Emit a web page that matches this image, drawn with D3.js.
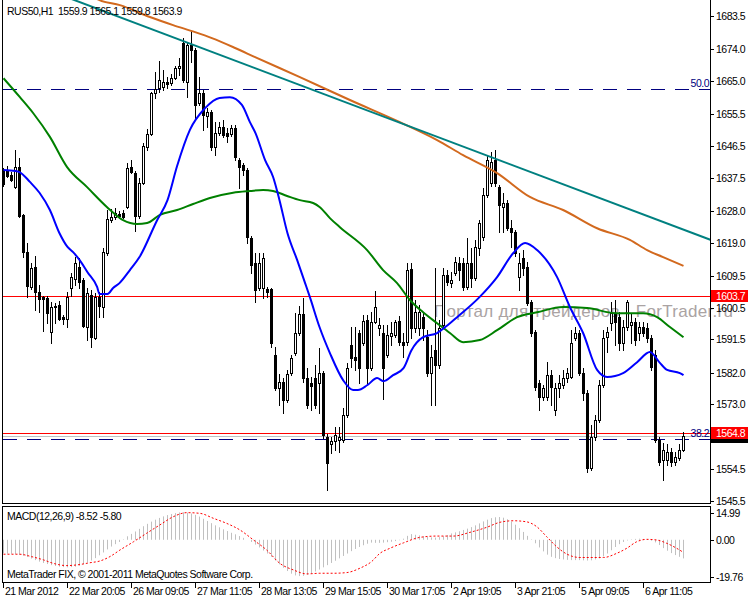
<!DOCTYPE html>
<html><head><meta charset="utf-8">
<script src="https://cdn.jsdelivr.net/npm/d3@7"></script>
<style>
body{margin:0;background:#fff;}
svg{display:block;font-family:"Liberation Sans",Arial,sans-serif;}
text{font-size:10.5px;letter-spacing:-0.5px;white-space:pre;}
</style></head><body>
<svg id="c" width="750" height="600"></svg>
<script>
// ---------------- DATA ----------------
const symbolTitle = "RUS50,H1  1559.9 1565.1 1559.8 1563.9";
const macdTitle = "MACD(12,26,9) -8.52 -5.80";
const copyright = "MetaTrader FIX, \u00A9 2001-2011 MetaQuotes Software Corp.";
const watermark = "Портал для трейдеров - ForTrader.ru";

const barOpen = [1639.7,1639.4,1638.3,1634.8,1640.6,1626.9,1616.3,1606.4,1612.1,1604.9,1603.5,1603.2,1593.5,1601.0,1601.3,1597.8,1597.3,1606.1,1608.7,1612.1,1608.4,1595.0,1604.1,1591.8,1603.5,1600.7,1616.0,1625.4,1626.3,1627.2,1627.4,1629.1,1640.5,1638.8,1626.6,1635.9,1646.2,1650.0,1661.5,1663.0,1663.3,1664.7,1664.4,1665.8,1668.7,1675.8,1664.7,1675.3,1673.8,1658.8,1661.5,1655.0,1656.1,1646.2,1650.2,1651.9,1650.2,1650.0,1651.6,1642.5,1641.1,1639.7,1620.3,1613.2,1606.1,1606.1,1605.8,1605.8,1587.0,1577.6,1579.3,1574.2,1582.0,1587.6,1593.3,1598.7,1580.5,1579.1,1580.5,1579.1,1582.0,1563.7,1561.7,1562.5,1562.8,1562.8,1569.9,1589.9,1586.4,1593.3,1590.4,1597.0,1583.3,1596.4,1594.7,1593.3,1587.0,1592.4,1592.7,1596.7,1590.7,1590.7,1611.5,1594.7,1594.7,1597.8,1592.1,1582.0,1588.4,1584.2,1595.6,1609.8,1607.5,1610.3,1613.2,1613.2,1606.4,1613.2,1609.0,1617.5,1620.6,1632.6,1635.9,1642.5,1634.8,1629.1,1630.3,1623.1,1622.0,1609.2,1614.6,1612.1,1602.1,1593.5,1579.1,1575.1,1575.1,1581.4,1571.4,1577.6,1578.5,1580.5,1580.8,1591.8,1593.3,1582.0,1576.2,1554.8,1563.7,1568.5,1578.5,1592.1,1596.1,1598.9,1597.8,1590.4,1595.0,1595.6,1596.4,1593.3,1595.0,1594.7,1591.8,1587.0,1562.8,1557.1,1557.1,1559.4,1556.5,1557.7,1559.9];
const barHigh = [1640.3,1640.8,1639.1,1645.4,1643.1,1627.2,1618.9,1613.2,1615.2,1607.0,1603.8,1603.8,1602.1,1601.8,1602.4,1598.4,1604.9,1610.3,1614.9,1614.6,1609.0,1606.1,1605.5,1604.6,1604.9,1617.5,1628.3,1628.6,1628.8,1628.0,1628.3,1641.6,1642.5,1639.4,1637.4,1647.3,1651.4,1661.9,1667.5,1670.7,1668.1,1666.1,1667.0,1669.3,1671.5,1677.2,1675.8,1679.2,1674.4,1666.1,1662.4,1657.3,1656.7,1653.3,1653.3,1653.9,1651.6,1652.5,1652.5,1643.1,1641.6,1640.2,1620.9,1616.0,1616.0,1616.0,1606.4,1606.1,1589.3,1581.7,1580.5,1582.8,1587.0,1598.9,1601.0,1603.2,1583.4,1580.8,1584.2,1589.0,1582.5,1564.6,1563.7,1566.6,1566.6,1571.9,1584.8,1595.0,1595.0,1594.1,1598.4,1598.4,1599.2,1605.2,1597.6,1595.6,1595.6,1596.4,1597.0,1598.1,1593.3,1613.2,1613.2,1602.7,1601.3,1599.2,1594.1,1589.9,1611.8,1597.0,1611.8,1611.2,1610.6,1614.9,1614.9,1614.6,1620.3,1617.5,1619.8,1625.4,1634.5,1643.9,1644.8,1645.4,1635.4,1633.2,1631.1,1625.4,1622.6,1616.0,1616.9,1613.5,1602.7,1594.1,1579.9,1578.5,1585.0,1582.8,1579.1,1581.4,1582.8,1583.3,1594.1,1595.0,1594.1,1583.3,1577.1,1567.1,1569.9,1579.9,1594.1,1595.0,1602.1,1602.7,1599.2,1597.0,1602.7,1598.9,1597.6,1596.4,1596.4,1596.1,1592.7,1588.4,1563.7,1562.0,1561.7,1560.6,1559.4,1561.7,1565.1];
const barLow = [1635.1,1637.7,1636.5,1634.5,1626.3,1614.9,1603.5,1605.8,1599.8,1599.2,1593.9,1596.1,1590.4,1596.1,1597.0,1595.8,1595.0,1603.8,1607.0,1606.1,1595.0,1591.3,1589.3,1591.5,1597.8,1597.8,1615.5,1624.8,1625.7,1626.0,1626.0,1628.8,1638.8,1622.3,1626.0,1635.7,1645.4,1649.7,1660.1,1661.9,1662.4,1663.0,1663.8,1665.6,1666.7,1664.7,1660.4,1670.4,1654.4,1658.2,1651.1,1651.9,1645.4,1644.0,1649.7,1649.1,1647.7,1649.4,1642.5,1634.5,1638.3,1618.9,1610.3,1602.1,1605.5,1603.2,1603.5,1589.3,1577.1,1572.8,1570.5,1573.6,1581.4,1587.0,1592.7,1579.3,1572.0,1571.4,1572.0,1570.5,1563.4,1548.6,1559.1,1560.0,1559.4,1562.3,1569.3,1583.6,1582.8,1579.1,1589.9,1579.1,1582.8,1596.1,1592.7,1574.5,1586.4,1589.9,1592.1,1589.9,1586.4,1589.9,1591.8,1593.5,1592.7,1591.3,1581.1,1572.8,1572.8,1583.3,1595.0,1607.0,1606.4,1609.8,1608.4,1605.5,1605.8,1606.4,1608.4,1615.5,1619.8,1632.0,1635.1,1635.1,1622.0,1622.0,1622.6,1617.8,1615.2,1605.5,1609.8,1601.3,1592.4,1577.1,1571.4,1574.2,1574.2,1572.8,1569.9,1575.0,1577.6,1579.3,1580.5,1591.3,1581.4,1574.2,1553.7,1554.3,1562.8,1568.0,1577.9,1587.8,1594.1,1589.9,1588.4,1588.4,1594.1,1590.4,1589.9,1591.3,1592.4,1590.7,1582.8,1562.3,1555.8,1551.5,1555.8,1555.5,1555.8,1557.1,1559.8];
const barClose = [1635.7,1638.0,1636.8,1640.6,1626.6,1616.3,1606.7,1611.8,1604.9,1602.9,1602.9,1598.9,1600.7,1600.7,1597.3,1597.3,1603.5,1609.2,1613.2,1607.8,1595.3,1604.6,1592.1,1603.5,1601.0,1616.3,1625.7,1626.3,1627.4,1626.6,1626.3,1640.2,1639.1,1626.6,1635.9,1646.5,1650.0,1661.5,1662.7,1665.3,1664.7,1664.1,1665.8,1668.7,1669.3,1665.3,1675.3,1673.8,1658.2,1661.5,1655.3,1656.1,1646.2,1650.2,1651.9,1649.7,1649.4,1651.6,1643.4,1640.5,1639.7,1620.6,1612.7,1605.5,1613.2,1614.6,1604.9,1590.4,1577.6,1579.3,1574.2,1581.7,1586.1,1593.3,1598.7,1580.5,1572.8,1578.2,1572.8,1582.0,1564.3,1556.3,1562.5,1564.3,1563.7,1569.9,1583.3,1586.1,1585.6,1583.3,1596.7,1583.3,1596.4,1600.7,1595.6,1583.3,1592.7,1593.3,1596.4,1590.7,1589.9,1611.2,1594.7,1599.2,1599.2,1594.7,1582.0,1586.4,1584.2,1594.7,1609.8,1607.8,1608.4,1613.5,1611.2,1606.4,1613.2,1609.0,1617.8,1624.6,1632.6,1642.5,1641.9,1635.9,1629.7,1630.3,1623.1,1622.0,1616.0,1613.2,1611.8,1601.8,1593.3,1577.9,1575.1,1577.6,1581.4,1577.9,1577.6,1579.1,1580.5,1582.0,1590.4,1593.3,1582.0,1576.2,1554.8,1563.7,1568.5,1578.5,1591.8,1593.5,1598.9,1596.4,1590.4,1595.0,1602.1,1596.4,1591.3,1595.0,1593.3,1591.8,1583.6,1562.8,1556.5,1560.0,1559.4,1556.5,1558.0,1560.0,1563.9];

// moving averages (sampled bar index -> value)
const maFastIdx = [0,3,4,6.6,9,11.6,14,16,17.4,19,21,23.4,24,26,27.4,29,31.6,34,38.4,41,43.4,46.6,50.4,54,56.6,59.6,61.6,63,65.4,67.4,69,71,73.4,75.4,76.6,79,81.6,84.9,87.4,88.6,91,93.4,95,97.4,100,102,104.9,108.4,111.1,113.4,119,123.4,127.4,130.4,133.4,138.4,141.6,144.9,148.4,150.9,154.9,158.4,161.6,164.1,165.9,169.1,170];
const maFastVal = [1639.7,1639.4,1639.1,1636.3,1633.2,1628.3,1621.7,1617.8,1616.3,1614.1,1610.6,1606.4,1604.4,1604.4,1606.1,1607.5,1611.2,1614.9,1625.4,1631.1,1640.8,1651.1,1657.3,1660.2,1660.4,1658.2,1653.3,1650.2,1642.5,1637.7,1631.1,1621.7,1614.1,1607.5,1603.5,1595.0,1587.6,1579.9,1577.1,1577.1,1578.5,1580.5,1579.6,1581.3,1583.3,1588.4,1592.1,1593.3,1595.6,1597.8,1603.5,1609.2,1616.0,1618.9,1616.9,1609.2,1600.7,1593.3,1582.8,1580.8,1581.9,1585.0,1587.9,1584.8,1582.8,1581.9,1581.3];
const maMidIdx = [0,4.1,7.4,11.6,15.9,20.9,25.9,29.9,33.4,35.9,39.1,43.4,47.4,51.6,57.4,61.6,64.9,67.4,70.9,74.1,77.4,79.1,81.6,84.1,90.9,94.9,98.4,101.6,104.9,108.4,111.6,114.9,119.1,123.4,128.4,133.4,139.9,145.9,153.4,159.9,163.4,166.6,170];
const maMidVal = [1665.8,1660.4,1655.9,1649.1,1640.5,1634.8,1629.1,1625.4,1624.3,1624.6,1626.9,1628.3,1630.0,1631.7,1633.2,1633.7,1634.0,1633.7,1632.3,1631.1,1630.3,1629.1,1626.0,1623.4,1616.9,1611.2,1607.5,1602.7,1599.2,1596.1,1593.3,1590.7,1591.3,1594.1,1597.8,1599.2,1600.7,1600.4,1598.9,1598.9,1597.8,1595.0,1592.1];
const maSlowIdx = [21.6,24,29.1,36.6,42.4,47.9,52.1,57.9,62.9,74.1,86.6,99.1,108.4,114.9,123.4,131.6,139.9,148.4,156.6,160.9,164.9,170];
const maSlowVal = [1689.5,1688.0,1686.6,1683.2,1680.9,1678.9,1677.2,1674.4,1671.8,1666.1,1659.6,1653.3,1648.2,1643.9,1638.8,1632.0,1628.3,1623.1,1619.8,1616.9,1614.9,1612.4];

// trend line anchors (bar index, price)
const trendIdx = [46, 122];
const trendVal = [1675.9, 1643.3];

// horizontal levels
const fibLabels = ["50.0", "38.2"];
const fibPrices = [1662.6, 1563.0];
const alertPrices = [1603.7, 1564.8];
const bidPrice = 1563.9;

// axes
const priceTicks = [1683.5,1674.0,1665.0,1655.5,1646.5,1637.5,1628.0,1619.0,1609.5,1600.5,1591.5,1582.0,1573.0,1564.0,1554.5,1545.5];
const timeTickIdx = [0,16,32,48,64,80,96,112,128,144,160];
const timeLabels = ["21 Mar 2012","22 Mar 20:05","26 Mar 09:05","27 Mar 11:05","28 Mar 13:05","29 Mar 15:05","30 Mar 17:05","2 Apr 19:05","3 Apr 21:05","5 Apr 09:05","6 Apr 11:05"];
const macdTicks = [14.99, 0.00, -19.76];

// MACD histogram per bar
const macdMain = [-6.2,-6.3,-6.4,-6.6,-6.9,-7.3,-7.9,-8.6,-9.3,-10.0,-10.6,-11.1,-11.6,-12.0,-12.3,-12.5,-12.6,-12.5,-12.3,-11.9,-11.2,-10.4,-9.5,-8.4,-7.1,-5.8,-4.4,-3.1,-2.0,-1.0,0.2,1.6,2.7,3.8,5.0,6.2,7.3,8.3,9.2,10.0,10.7,11.3,11.8,12.2,12.5,12.6,12.4,12.0,11.4,10.6,9.6,8.6,7.6,6.6,5.7,4.8,4.0,3.2,2.5,1.7,0.9,0.0,-1.0,-2.2,-3.5,-4.9,-6.3,-7.8,-9.5,-11.2,-12.8,-14.3,-15.5,-16.3,-16.6,-16.5,-16.0,-15.3,-14.5,-13.6,-12.6,-11.6,-10.6,-9.6,-8.5,-7.4,-6.3,-5.2,-4.2,-3.3,-2.5,-1.8,-1.3,-1.4,-1.4,-1.3,-1.1,-0.9,-0.6,-0.2,0.5,1.8,2.6,2.3,2.0,1.6,1.3,1.1,1.0,1.2,1.6,2.2,2.9,3.4,3.9,4.5,5.1,5.8,6.6,7.5,8.4,9.2,9.9,10.3,10.4,10.1,9.4,8.3,6.9,5.3,3.6,1.8,0.2,-1.6,-3.5,-5.3,-6.8,-7.8,-8.4,-8.8,-9.0,-9.2,-9.3,-9.3,-9.3,-9.4,-9.5,-9.4,-9.0,-8.5,-7.6,-6.3,-4.8,-3.3,-2.0,-1.0,-0.3,0.2,0.4,0.5,0.4,0.1,-0.4,-1.2,-2.4,-3.8,-5.0,-6.1,-7.0,-7.8,-8.52];
// MACD signal (sampled)
const signalIdx = [0,4,7,10,12.5,15.8,18.3,21.6,24.1,26.6,29.1,32.5,35.8,39.1,42.5,45.8,49.1,52.5,55.8,59.1,62.5,65.8,69.1,72.5,75.8,79.1,82.5,85.8,89.1,92,94.1,96.6,100,104.1,108.3,112.5,116.6,120.8,124.1,127.5,130.8,133.3,135.8,138.3,140.8,144.1,150,153.3,155.8,158.3,160.8,163.3,165.8,168.3,170];
const signalVal = [-6.6,-6.6,-7.7,-9.2,-10.8,-11.8,-11.5,-10.5,-9.7,-7.7,-4.7,-0.9,3.0,6.8,10.6,12.4,12.1,9.8,7.5,4.5,-0.1,-4.7,-10.8,-13.8,-15.6,-15.3,-15.3,-15.0,-13.0,-10.0,-6.2,-3.9,-1.4,1.1,1.7,1.7,3.4,5.7,8.0,8.7,8.2,6.0,1.4,-3.2,-6.5,-8.1,-8.1,-6.2,-3.9,-0.9,0.2,-0.1,-1.6,-3.9,-5.8];

// ---------------- DRAW ----------------
const svg = d3.select('#c');
const plotLeft = 3, plotRight = 710, plotBottom = 504;
const x = d3.scaleLinear().domain([0,170]).range([3.5,683.5]);
const y = d3.scaleLinear().domain([1545.5,1683.5]).range([501,16]);
const my = d3.scaleLinear().domain([-19.76,14.99]).range([583,507]);
const crisp = v => Math.round(v) + 0.5;

const defs = svg.append('defs');
defs.append('clipPath').attr('id','clipMain').append('rect')
  .attr('x',plotLeft).attr('y',0).attr('width',plotRight-plotLeft).attr('height',plotBottom-1);
defs.append('clipPath').attr('id','clipMacd').append('rect')
  .attr('x',plotLeft).attr('y',507).attr('width',plotRight-plotLeft).attr('height',75);

// watermark
svg.append('text').attr('x',434).attr('y',317).text(watermark)
  .style('font-size','17px').style('letter-spacing','0.3px').attr('fill','#aaa3a3');

const main = svg.append('g').attr('clip-path','url(#clipMain)');

// header
svg.append('text').attr('x',7).attr('y',15).text(symbolTitle).attr('fill','#000');

// horizontal levels
alertPrices.forEach(p => {
  main.append('line').attr('x1',plotLeft).attr('x2',plotRight)
    .attr('y1',crisp(y(p))).attr('y2',crisp(y(p))).attr('stroke','#ff0000');
});
main.append('line').attr('x1',plotLeft).attr('x2',plotRight)
  .attr('y1',crisp(y(bidPrice))).attr('y2',crisp(y(bidPrice))).attr('stroke','#c0c0c0');
fibPrices.forEach((p,k) => {
  const yy = crisp(y(p));
  main.append('line').attr('x1',plotLeft).attr('x2',plotRight).attr('y1',yy).attr('y2',yy)
    .attr('stroke','#000080').attr('stroke-dasharray','14,10');
  svg.append('text').attr('x',709).attr('y',yy-2.5).attr('text-anchor','end')
    .attr('fill','#000080').text(fibLabels[k]);
});

// candles
const candles = main.append('g');
barOpen.forEach((o,i) => {
  const h = barHigh[i], l = barLow[i], c = barClose[i];
  const cx = x(i);
  candles.append('line').attr('x1',cx).attr('x2',cx)
    .attr('y1',Math.round(y(h))).attr('y2',Math.round(y(l))+1).attr('stroke','#000');
  if (c >= o) {
    const top = crisp(y(c)), bot = crisp(y(o));
    candles.append('rect').attr('x',cx-1).attr('y',top).attr('width',2)
      .attr('height',Math.max(bot-top,0)).attr('fill','#fff').attr('stroke','#000');
  } else {
    const top = Math.round(y(o)), bot = Math.round(y(c));
    candles.append('rect').attr('x',cx-1.5).attr('y',top).attr('width',3)
      .attr('height',Math.max(bot-top,1)+1).attr('fill','#000');
  }
});

// moving averages
const lineGen = d3.line().x(d=>x(d[0])).y(d=>y(d[1])).curve(d3.curveMonotoneX);
const zip = (a,b) => a.map((v,k)=>[v,b[k]]);
main.append('path').attr('d',lineGen(zip(maSlowIdx,maSlowVal))).attr('fill','none')
  .attr('stroke','#d2691e').attr('stroke-width',2);
main.append('path').attr('d',lineGen(zip(maMidIdx,maMidVal))).attr('fill','none')
  .attr('stroke','#008000').attr('stroke-width',2);
main.append('path').attr('d',lineGen(zip(maFastIdx,maFastVal))).attr('fill','none')
  .attr('stroke','#0000ff').attr('stroke-width',2);

// trend line (extended both ways, clipped)
const slope = (trendVal[1]-trendVal[0])/(trendIdx[1]-trendIdx[0]);
const tA = -20, tB = 190;
main.append('line')
  .attr('x1',x(tA)).attr('y1',y(trendVal[0]+slope*(tA-trendIdx[0])))
  .attr('x2',x(tB)).attr('y2',y(trendVal[0]+slope*(tB-trendIdx[0])))
  .attr('stroke','#008080').attr('stroke-width',2);

// frames
const frame = svg.append('g').attr('stroke','#000').attr('fill','none');
frame.append('line').attr('x1',2.5).attr('x2',2.5).attr('y1',0).attr('y2',504);
frame.append('line').attr('x1',710.5).attr('x2',710.5).attr('y1',0).attr('y2',504);
frame.append('line').attr('x1',2).attr('x2',711).attr('y1',503.5).attr('y2',503.5);
frame.append('rect').attr('x',2.5).attr('y',506.5).attr('width',708).attr('height',76);

// price axis (label under the current-price boxes is hidden, as in the terminal)
priceTicks.forEach(v => {
  const yy = crisp(y(v));
  svg.append('line').attr('x1',711).attr('x2',714).attr('y1',yy).attr('y2',yy).attr('stroke','#000');
  const hidden = alertPrices.some(p => Math.abs(y(p)-y(v)) < 10);
  if (!hidden) svg.append('text').attr('x',716).attr('y',yy+3.5).text(v.toFixed(1)).attr('fill','#000');
});
// bid label box (mostly hidden under the alert label)
{
  const yy = Math.round(y(bidPrice));
  svg.append('rect').attr('x',711).attr('y',yy-5).attr('width',37).attr('height',12).attr('fill','#000');
}
alertPrices.forEach(p => {
  const yy = Math.round(y(p));
  svg.append('rect').attr('x',711).attr('y',yy-6).attr('width',37).attr('height',12).attr('fill','#ff0000');
  svg.append('text').attr('x',716).attr('y',yy+4).text(p.toFixed(1)).attr('fill','#fff');
});

// time axis
timeTickIdx.forEach((i,k) => {
  const xx = x(i);
  svg.append('line').attr('x1',xx).attr('x2',xx).attr('y1',583).attr('y2',588).attr('stroke','#000');
  svg.append('text').attr('x',xx+1.5).attr('y',594.5).text(timeLabels[k]).attr('fill','#000');
});

// MACD panel
const mg = svg.append('g').attr('clip-path','url(#clipMacd)');
const zeroY = my(0);
macdMain.forEach((v,i) => {
  mg.append('line').attr('x1',x(i)).attr('x2',x(i)).attr('y1',zeroY).attr('y2',my(v))
    .attr('stroke','#c0c0c0');
});
const sigGen = d3.line().x(d=>x(d[0])).y(d=>my(d[1])).curve(d3.curveMonotoneX);
mg.append('path').attr('d',sigGen(zip(signalIdx,signalVal))).attr('fill','none')
  .attr('stroke','#ff0000').attr('stroke-dasharray','2,2');
svg.append('text').attr('x',7).attr('y',520).text(macdTitle).attr('fill','#000');
svg.append('text').attr('x',7).attr('y',578).text(copyright).attr('fill','#000');
macdTicks.forEach(v => {
  const yy = Math.round(Math.min(Math.max(my(v), 513), 577)) + 0.5;
  svg.append('line').attr('x1',711).attr('x2',714).attr('y1',yy).attr('y2',yy).attr('stroke','#000');
  svg.append('text').attr('x',716).attr('y',yy+3.5).text(v.toFixed(2)).attr('fill','#000');
});
</script>
</body></html>
